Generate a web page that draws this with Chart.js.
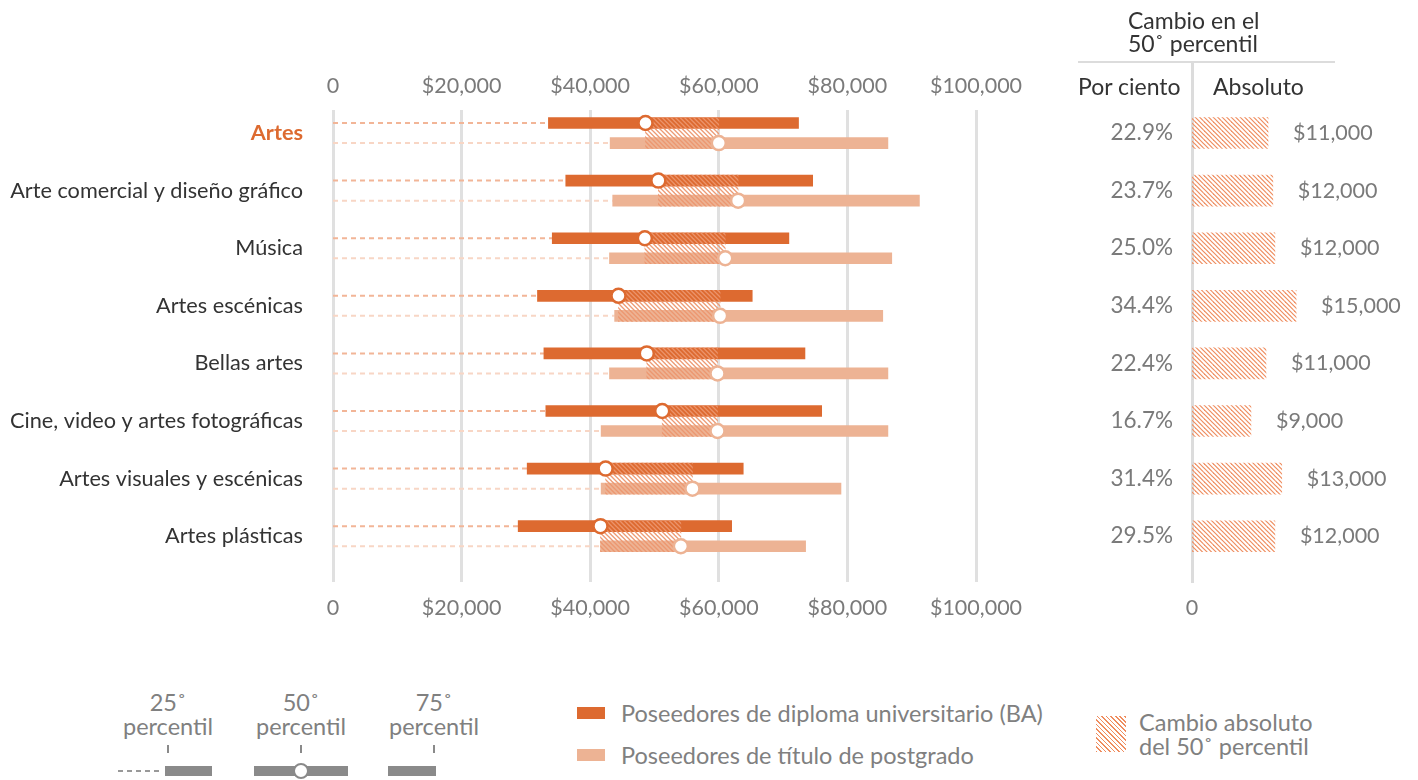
<!DOCTYPE html>
<html lang="es">
<head>
<meta charset="UTF-8">
<title>Cambio en el 50˚ percentil</title>
<script src="https://cdn.jsdelivr.net/npm/chart.js"></script>
<style>
    body { margin: 0; background: #fff; font-family: Lato, 'Open Sans', sans-serif; }
    #wrap { position: relative; width: 1418px; height: 780px; overflow: hidden; }
    canvas { position: absolute; top: 0; }
    #principal { left: 0; }
    #lateral { left: 1060px; }
    .t { position: absolute; white-space: nowrap; font-size: 23.5px; line-height: 24px; }
    .cab { font-size: 23px; }
    .oscuro { color: #333; }
    .gris { color: #808080; }
    .centro { text-align: center; width: 140px; }
    .caja { position: absolute; }
</style>
</head>
<body>
<div id="wrap">
    <canvas id="principal" width="1060" height="640"></canvas>
    <canvas id="lateral" width="358" height="640"></canvas>

    <!-- cabecera del panel derecho -->
    <div class="t cab oscuro" style="left:1128px; top:8px;">Cambio en el</div>
    <div class="t cab oscuro" style="left:1128px; top:31px;">50˚ percentil</div>
    <div class="caja" style="left:1078px; top:61px; width:257px; height:2px; background:#dcdcdc;"></div>
    <div class="t cab oscuro" style="left:1078px; top:74px;">Por ciento</div>
    <div class="t cab oscuro" style="left:1213px; top:74px;">Absoluto</div>

    <!-- leyenda de percentiles -->
    <div class="t gris centro" style="left:98px; top:690px;">25˚</div>
    <div class="t gris centro" style="left:98px; top:714px;">percentil</div>
    <div class="caja" style="left:167px; top:745px; width:1.5px; height:8px; background:#8a8a8a;"></div>
    <div class="caja" style="left:118px; top:770px; width:45px; height:1.5px; background:repeating-linear-gradient(90deg, #999 0 5px, transparent 5px 9px);"></div>
    <div class="caja" style="left:165px; top:766px; width:47px; height:10px; background:#8a8a8a;"></div>

    <div class="t gris centro" style="left:231px; top:690px;">50˚</div>
    <div class="t gris centro" style="left:231px; top:714px;">percentil</div>
    <div class="caja" style="left:300px; top:745px; width:1.5px; height:8px; background:#8a8a8a;"></div>
    <div class="caja" style="left:254px; top:766px; width:94px; height:10px; background:#8a8a8a;"></div>
    <div class="caja" style="left:293px; top:763px; width:16px; height:16px; border:2.5px solid #8a8a8a; border-radius:50%; background:#fff; box-sizing:border-box;"></div>

    <div class="t gris centro" style="left:364px; top:690px;">75˚</div>
    <div class="t gris centro" style="left:364px; top:714px;">percentil</div>
    <div class="caja" style="left:433px; top:745px; width:1.5px; height:8px; background:#8a8a8a;"></div>
    <div class="caja" style="left:388px; top:766px; width:48px; height:10px; background:#8a8a8a;"></div>

    <!-- leyenda de series -->
    <div class="caja" style="left:577px; top:707px; width:28px; height:12px; background:#dd6a30;"></div>
    <div class="t gris" style="left:621px; top:701px;">Poseedores de diploma universitario (BA)</div>
    <div class="caja" style="left:577px; top:749px; width:28px; height:12px; background:#edb394;"></div>
    <div class="t gris" style="left:621px; top:743px;">Poseedores de título de postgrado</div>

    <div class="caja" style="left:1096px; top:716px; width:30px; height:36px; background:repeating-linear-gradient(45deg, #ef8d5f 0 1.2px, #fff 1.2px 3.2px);"></div>
    <div class="t gris" style="left:1139px; top:710px;">Cambio absoluto</div>
    <div class="t gris" style="left:1139px; top:734px;">del 50˚ percentil</div>
</div>

<script>
// ======= Datos =======
const categorias = ['Artes', 'Arte comercial y diseño gráfico', 'Música', 'Artes escénicas',
    'Bellas artes', 'Cine, video y artes fotográficas', 'Artes visuales y escénicas', 'Artes plásticas'];

// Poseedores de diploma universitario (BA)
const ba25 = [33500, 36200, 34100, 31800, 32800, 33100, 30200, 28800];
const ba50 = [48600, 50600, 48500, 44400, 48800, 51200, 42400, 41600];
const ba75 = [72400, 74600, 70900, 65200, 73400, 76000, 63800, 62000];

// Poseedores de título de postgrado
const pg25 = [43100, 43500, 43000, 43800, 43000, 41700, 41700, 41600];
const pg50 = [60000, 63000, 61000, 60200, 59800, 59800, 55900, 54100];
const pg75 = [86300, 91200, 86900, 85500, 86300, 86300, 79000, 73500];

// Cambio en el 50˚ percentil
const cambioPct = ['22.9%', '23.7%', '25.0%', '34.4%', '22.4%', '16.7%', '31.4%', '29.5%'];
const cambioAbs = [11100, 11800, 12100, 15200, 10800, 8600, 13100, 12100];
const cambioAbsTexto = ['$11,000', '$12,000', '$12,000', '$15,000', '$11,000', '$9,000', '$13,000', '$12,000'];

const ticksDolares = [0, 20000, 40000, 60000, 80000, 100000];

// ======= Estilo =======
const FUENTE = "Lato, 'Open Sans', sans-serif";
const NARANJA = '#dd6a30';
const SALMON = '#edb394';
const GRIS_TXT = '#7a7a7a';
const DESPL = 0.174;   // separación BA / postgrado dentro de cada fila

function rayado(color, ancho) {
    const c = document.createElement('canvas');
    c.width = 9; c.height = 9;
    const g = c.getContext('2d');
    g.strokeStyle = color;
    g.lineWidth = ancho;
    [-9, -4.5, 0, 4.5, 9].forEach(k => {
        g.beginPath();
        g.moveTo(k - 1, -1);
        g.lineTo(k + 10, 10);
        g.stroke();
    });
    return g.createPattern(c, 'repeat');
}

function tramos(inicio, d) {
    const pts = [];
    inicio.forEach((v, i) => {
        pts.push({ x: 0, y: i + d }, { x: v, y: i + d }, { x: null, y: i + d });
    });
    return pts;
}

const ticksFilas = s => { s.ticks = categorias.map((_, i) => ({ value: i })); };
const ticksX = s => { s.ticks = ticksDolares.map(v => ({ value: v })); };
const dolar = v => v === 0 ? '0' : '$' + v.toLocaleString('en-US');
const fuenteNum = { family: FUENTE, size: 21.5 };

// ======= Gráfico principal =======
new Chart(document.getElementById('principal'), {
    type: 'bar',
    data: {
        datasets: [
            {
                type: 'scatter', indexAxis: 'y', order: 0,
                data: ba50.map((v, i) => ({ x: v, y: i - DESPL })),
                pointRadius: 7, pointBorderWidth: 2.5,
                pointBackgroundColor: '#fff', pointBorderColor: NARANJA
            },
            {
                type: 'scatter', indexAxis: 'y', order: 0,
                data: pg50.map((v, i) => ({ x: v, y: i + DESPL })),
                pointRadius: 7, pointBorderWidth: 2.5,
                pointBackgroundColor: '#fff', pointBorderColor: SALMON
            },
            {
                order: 1, grouped: false, barThickness: 31, borderWidth: 0,
                data: ba50.map((v, i) => ({ y: i, x: [v, pg50[i]] })),
                backgroundColor: rayado('rgba(236,150,110,0.95)', 1.3)
            },
            {
                order: 2, grouped: false, barThickness: 11, borderWidth: 0,
                data: ba25.map((v, i) => ({ y: i - DESPL, x: [v, ba75[i]] })),
                backgroundColor: NARANJA
            },
            {
                order: 2, grouped: false, barThickness: 11, borderWidth: 0,
                data: pg25.map((v, i) => ({ y: i + DESPL, x: [v, pg75[i]] })),
                backgroundColor: SALMON
            },
            {
                type: 'line', indexAxis: 'y', order: 3,
                data: tramos(ba25, -DESPL),
                borderColor: '#f2b597', borderWidth: 2, borderDash: [5, 4],
                pointRadius: 0, spanGaps: false
            },
            {
                type: 'line', indexAxis: 'y', order: 3,
                data: tramos(pg25, DESPL),
                borderColor: '#f8d6c5', borderWidth: 2, borderDash: [5, 4],
                pointRadius: 0, spanGaps: false
            }
        ]
    },
    options: {
        indexAxis: 'y',
        responsive: false,
        animation: false,
        layout: { padding: { right: 84 } },
        plugins: { legend: { display: false }, tooltip: { enabled: false } },
        scales: {
            x: {
                type: 'linear', position: 'bottom', min: 0, max: 100000,
                grid: { color: '#e0e0e0', lineWidth: 3, drawTicks: false },
                border: { display: false },
                ticks: { color: GRIS_TXT, font: fuenteNum, padding: 13, callback: dolar },
                afterBuildTicks: ticksX,
                afterFit: s => { s.height = 58; }
            },
            x2: {
                type: 'linear', position: 'top', min: 0, max: 100000,
                grid: { display: false, drawTicks: false },
                border: { display: false },
                ticks: { color: GRIS_TXT, font: fuenteNum, padding: 11, callback: dolar },
                afterBuildTicks: ticksX,
                afterFit: s => { s.height = 110; }
            },
            y: {
                type: 'linear', reverse: true, offset: false, bounds: 'data', min: -0.4, max: 7.795,
                grid: { display: false, drawTicks: false, offset: false },
                border: { display: false },
                ticks: {
                    padding: 30,
                    callback: v => categorias[v],
                    color: c => c.index === 0 ? NARANJA : '#333',
                    font: c => ({ family: FUENTE, size: 21.7, weight: c.index === 0 ? 'bold' : 'normal' })
                },
                afterBuildTicks: ticksFilas,
                afterFit: s => { s.width = 333; }
            }
        }
    }
});

// ======= Panel derecho: cambio en el 50˚ percentil =======
const etiquetasAbs = {
    id: 'etiquetasAbs',
    afterDatasetsDraw(chart) {
        const ctx = chart.ctx;
        ctx.save();
        ctx.font = '21.5px ' + FUENTE;
        ctx.fillStyle = GRIS_TXT;
        ctx.textAlign = 'left';
        ctx.textBaseline = 'middle';
        chart.getDatasetMeta(0).data.forEach((bar, i) => {
            ctx.fillText(cambioAbsTexto[i], bar.x + 25, bar.y);
        });
        ctx.restore();
    }
};

new Chart(document.getElementById('lateral'), {
    type: 'bar',
    data: {
        datasets: [{
            grouped: false, barThickness: 31, borderWidth: 0,
            data: cambioAbs.map((v, i) => ({ y: i, x: v })),
            backgroundColor: rayado('#ef8d5f', 1.2)
        }]
    },
    options: {
        indexAxis: 'y',
        responsive: false,
        animation: false,
        layout: { padding: { top: 62, right: 20.5 } },
        plugins: { legend: { display: false }, tooltip: { enabled: false } },
        scales: {
            x: {
                type: 'linear', min: 0, max: 30000,
                grid: { display: false, drawTicks: false },
                border: { display: false },
                ticks: { color: GRIS_TXT, font: fuenteNum, padding: 13, callback: dolar },
                afterBuildTicks: s => { s.ticks = [{ value: 0 }]; },
                afterFit: s => { s.height = 58; }
            },
            y: {
                type: 'linear', reverse: true, offset: false, bounds: 'data', min: -1.233, max: 7.795,
                grid: { display: false, drawTicks: false, offset: false },
                border: { display: true, color: '#dcdcdc', width: 3 },
                ticks: { color: GRIS_TXT, font: { family: FUENTE, size: 22.5 }, padding: 19, callback: v => cambioPct[v] },
                afterBuildTicks: ticksFilas,
                afterFit: s => { s.width = 132; }
            }
        }
    },
    plugins: [etiquetasAbs]
});
</script>
</body>
</html>
